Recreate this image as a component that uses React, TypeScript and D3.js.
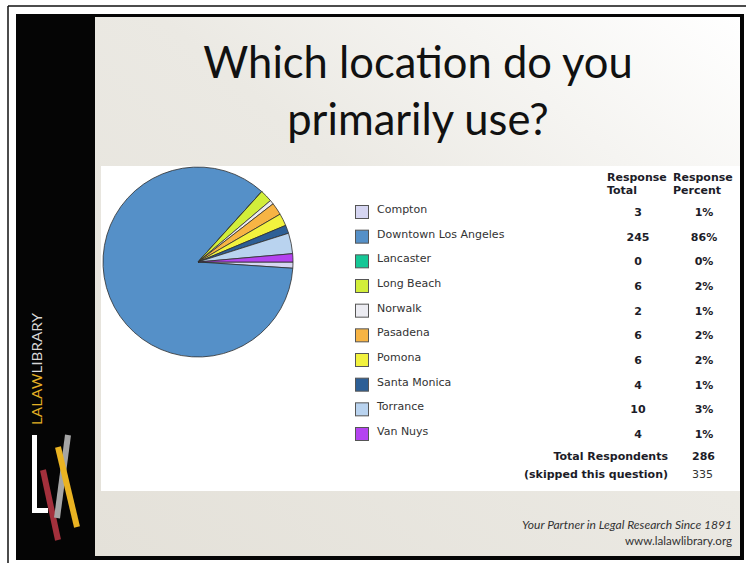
import React from "react";
import * as d3 from "d3";

const categories = [
  "Compton",
  "Downtown Los Angeles",
  "Lancaster",
  "Long Beach",
  "Norwalk",
  "Pasadena",
  "Pomona",
  "Santa Monica",
  "Torrance",
  "Van Nuys",
];
const totals = [3, 245, 0, 6, 2, 6, 6, 4, 10, 4];
const percents = ["1%", "86%", "0%", "2%", "1%", "2%", "2%", "1%", "3%", "1%"];
const colors = [
  "#d6d6f2",
  "#5590c8",
  "#16c796",
  "#d2ee3a",
  "#ececf2",
  "#f7b444",
  "#f2f23e",
  "#2d5f96",
  "#b9d3ef",
  "#b443f0",
];
const totalRespondents = 286;
const skipped = 335;

const W = 746;
const H = 563;

export default function App() {
  const pie = d3
    .pie<number>()
    .sort(null)
    .value((d) => d)
    .startAngle(Math.PI / 2)
    .endAngle(Math.PI / 2 + 2 * Math.PI);
  const arcs = pie(totals);
  const arc = d3.arc<d3.PieArcDatum<number>>().innerRadius(0).outerRadius(95);

  const rowY = d3
    .scaleLinear()
    .domain([0, categories.length - 1])
    .range([209, 431]);

  const tableFont = "'DejaVu Sans', Verdana, sans-serif";
  const titleFont = "Lato, 'Open Sans', sans-serif";

  return (
    <svg
      width={W}
      height={H}
      viewBox={`0 0 ${W} ${H}`}
      style={{ position: "absolute", left: 0, top: 0, display: "block" }}
    >
      <defs>
        <linearGradient id="bg" x1="0" y1="1" x2="1" y2="0">
          <stop offset="0%" stopColor="#e4e1d9" />
          <stop offset="55%" stopColor="#ebe9e3" />
          <stop offset="100%" stopColor="#ffffff" />
        </linearGradient>
      </defs>
      <rect x={0} y={0} width={W} height={H} fill="#ffffff" />
      {/* outer thin lines */}
      <line x1={8} y1={6} x2={W} y2={6} stroke="#111" strokeWidth={1.5} />
      <line x1={8} y1={6} x2={8} y2={H} stroke="#111" strokeWidth={1.5} />
      {/* slide frame */}
      <rect x={16} y={14} width={728} height={546} fill="#050505" />
      <rect x={95} y={17} width={645} height={539} fill="url(#bg)" />
      {/* chart image area */}
      <rect x={101} y={166} width={639} height={325} fill="#ffffff" />

      {/* title */}
      <text
        x={418}
        y={78}
        textAnchor="middle"
        fontFamily={titleFont}
        fontSize={43.5}
        fill="#111"
      >
        Which location do you
      </text>
      <text
        x={418}
        y={135}
        textAnchor="middle"
        fontFamily={titleFont}
        fontSize={43.5}
        fill="#111"
      >
        primarily use?
      </text>

      {/* pie */}
      <g transform="translate(198,262)">
        {arcs.map((a, i) => (
          <path
            key={i}
            d={arc(a) || ""}
            fill={colors[i]}
            stroke="#2e2e2e"
            strokeWidth={0.8}
            strokeLinejoin="round"
          />
        ))}
      </g>

      {/* headers */}
      <g fontFamily={tableFont} fontSize={11} fontWeight="bold" fill="#1c1c28">
        <text x={607} y={181}>Response</text>
        <text x={607} y={194}>Total</text>
        <text x={673} y={181}>Response</text>
        <text x={673} y={194}>Percent</text>
      </g>

      {/* legend rows */}
      {categories.map((c, i) => {
        const y = rowY(i);
        return (
          <g key={c}>
            <rect
              x={355.5}
              y={y - 3.5}
              width={13}
              height={13}
              fill={colors[i]}
              stroke="#555"
              strokeWidth={1}
            />
            <text
              x={377}
              y={y + 4}
              fontFamily={tableFont}
              fontSize={11}
              fill="#333"
            >
              {c}
            </text>
            <text
              x={638}
              y={y + 7}
              textAnchor="middle"
              fontFamily={tableFont}
              fontSize={11}
              fontWeight="bold"
              fill="#1c1c28"
            >
              {totals[i]}
            </text>
            <text
              x={704}
              y={y + 7}
              textAnchor="middle"
              fontFamily={tableFont}
              fontSize={11}
              fontWeight="bold"
              fill="#1c1c28"
            >
              {percents[i]}
            </text>
          </g>
        );
      })}

      <g fontFamily={tableFont} fontSize={11} fill="#1c1c28">
        <text x={668} y={459.5} textAnchor="end" fontWeight="bold">
          Total Respondents
        </text>
        <text x={692} y={459.5} fontWeight="bold">
          {totalRespondents}
        </text>
        <text x={668} y={478} textAnchor="end" fontWeight="bold">
          (skipped this question)
        </text>
        <text x={692} y={478} fill="#333">
          {skipped}
        </text>
      </g>

      {/* footer */}
      <text
        x={732}
        y={529}
        textAnchor="end"
        fontFamily={titleFont}
        fontStyle="italic"
        fontSize={12}
        fill="#333"
        textLength={210}
        lengthAdjust="spacingAndGlyphs"
      >
        Your Partner in Legal Research Since 1891
      </text>
      <text
        x={732}
        y={545}
        textAnchor="end"
        fontFamily={titleFont}
        fontSize={12}
        fill="#333"
        textLength={107}
        lengthAdjust="spacingAndGlyphs"
      >
        www.lalawlibrary.org
      </text>

      {/* left logo */}
      <text
        transform="translate(42,425) rotate(-90)"
        fontFamily={titleFont}
        fontSize={12.5}
        textLength={112}
        lengthAdjust="spacingAndGlyphs"
      >
        <tspan fill="#e3b024">LALAW</tspan>
        <tspan fill="#d8d8d8">LIBRARY</tspan>
      </text>
      <path d="M32,435 L37,435 L37,508 L48,508 L48,513 L32,513 Z" fill="#ffffff" />
      <line x1={43} y1={470} x2={58} y2={540} stroke="#a3303c" strokeWidth={6} />
      <line x1={68} y1={435} x2={57} y2={518} stroke="#a5a5a5" strokeWidth={6} />
      <line x1={58} y1={447} x2={77} y2={527} stroke="#eab322" strokeWidth={6} />
    </svg>
  );
}
